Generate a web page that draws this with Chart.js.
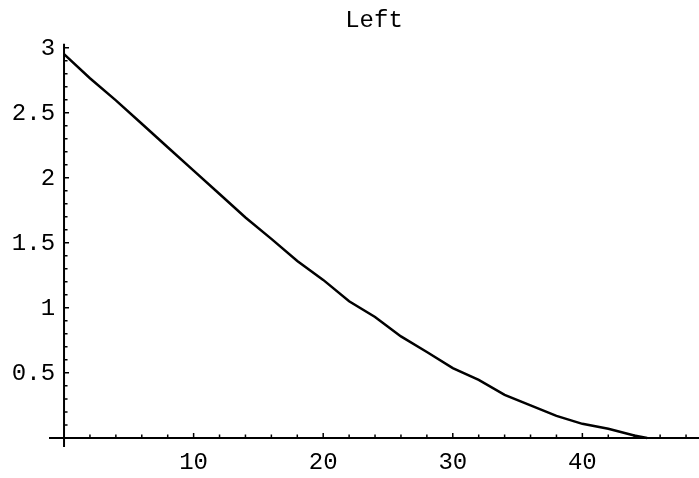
<!DOCTYPE html>
<html>
<head>
<meta charset="utf-8">
<title>Left</title>
<script src="https://cdn.jsdelivr.net/npm/chart.js@4.4.1/dist/chart.umd.min.js"></script>
<style>
    html, body { margin: 0; padding: 0; background: #fff; }
    #wrap { width: 699px; height: 478px; }
</style>
</head>
<body>
<div id="wrap"><canvas id="myChart"></canvas></div>
<script>
// data
const xValues = [0, 2, 4, 6, 8, 10, 12, 14, 16, 18, 20, 22, 24, 26, 28, 30, 32, 34, 36, 38, 40, 42, 44, 45]
const leftValues = [2.95, 2.765, 2.595, 2.415, 2.235, 2.055, 1.875, 1.695, 1.53, 1.36, 1.215, 1.05,
    0.93, 0.78, 0.66, 0.536, 0.446, 0.331, 0.25, 0.169, 0.108, 0.07, 0.018, 0]

const xTickLabels = ['10', '20', '30', '40']
const yTickLabels = ['0.5', '1', '1.5', '2', '2.5', '3']

const FONT = "'Liberation Mono', 'Courier New', monospace"

// axes through the origin, Mathematica style: ticks point inward
const originAxes = {
    id: 'originAxes',
    afterDatasetsDraw(chart) {
        const { ctx, chartArea, scales: { x, y } } = chart
        const x0 = x.getPixelForValue(0)
        const y0 = y.getPixelForValue(0)

        ctx.save()
        ctx.strokeStyle = '#000'
        ctx.fillStyle = '#000'
        ctx.lineWidth = 2

        ctx.beginPath()
        ctx.moveTo(chartArea.left, y0)
        ctx.lineTo(chartArea.right, y0)
        ctx.moveTo(x0, chartArea.bottom)
        ctx.lineTo(x0, chartArea.top)
        ctx.stroke()

        // minor / major ticks
        ctx.lineWidth = 1.5
        ctx.beginPath()
        for (let v = 2; v <= x.max; v += 2) {
            const px = x.getPixelForValue(v)
            const len = v % 10 === 0 ? 5 : 3.5
            ctx.moveTo(px, y0)
            ctx.lineTo(px, y0 - len)
        }
        for (let i = 1; i <= 30; i++) {
            const py = y.getPixelForValue(i / 10)
            const len = i % 5 === 0 ? 5 : 3.5
            ctx.moveTo(x0, py)
            ctx.lineTo(x0 + len, py)
        }
        ctx.stroke()

        ctx.font = '24px ' + FONT
        ctx.textAlign = 'center'
        ctx.textBaseline = 'middle'
        xTickLabels.forEach(lbl => {
            ctx.fillText(lbl, x.getPixelForValue(Number(lbl)), y0 + 25)
        })
        ctx.textAlign = 'right'
        yTickLabels.forEach(lbl => {
            ctx.fillText(lbl, x0 - 9, y.getPixelForValue(Number(lbl)) + 1)
        })
        ctx.restore()
    }
}

const ctx = document.getElementById('myChart')
new Chart(ctx, {
    type: 'line',
    data: {
        datasets: [{
            label: 'Left',
            data: xValues.map((v, i) => ({ x: v, y: leftValues[i] })),
            borderColor: '#000',
            borderWidth: 2.5,
            pointRadius: 0,
            tension: 0,
            fill: false
        }]
    },
    options: {
        responsive: true,
        maintainAspectRatio: false,
        animation: false,
        layout: {
            padding: { left: 49, right: 0, top: 0, bottom: 31 }
        },
        scales: {
            x: { type: 'linear', min: -1.16, max: 49.0, display: false },
            y: { type: 'linear', min: -0.07, max: 3.03, display: false }
        },
        plugins: {
            legend: { display: false },
            tooltip: { enabled: false },
            title: {
                display: true,
                text: 'Left',
                fullSize: false,
                color: '#000',
                font: { family: FONT, size: 24, weight: 'normal' },
                padding: { top: 6, bottom: 9 }
            }
        }
    },
    plugins: [originAxes]
})
</script>
</body>
</html>
